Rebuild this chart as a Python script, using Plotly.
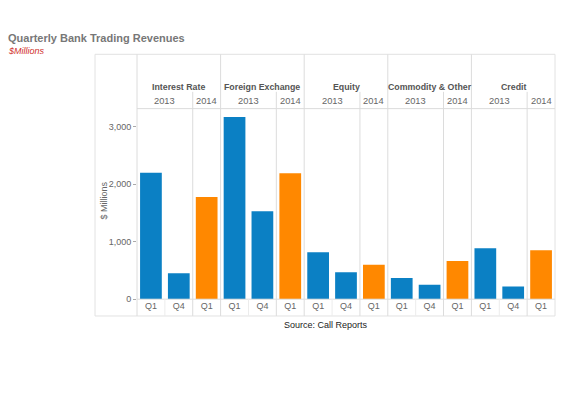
import plotly.graph_objects as go

categories = ["Interest Rate", "Foreign Exchange", "Equity", "Commodity & Other", "Credit"]
years = ["2013", "2013", "2014"]
quarters = ["Q1", "Q4", "Q1"]
values = {
    "Interest Rate": [2200, 450, 1780],
    "Foreign Exchange": [3170, 1530, 2190],
    "Equity": [815, 470, 600],
    "Commodity & Other": [370, 250, 665],
    "Credit": [885, 220, 850],
}
y_ticks = [0, 1000, 2000, 3000]
y_ticktext = ["0", "1,000", "2,000", "3,000"]

BLUE = "#0B80C4"
ORANGE = "#FF8800"
GRID = "#dcdcdc"

W, H = 569, 398
def py(p):  # pixel y -> paper
    return 1 - p / H
def px(p):
    return p / W

xs, ys, cols, ticktext = [], [], [], []
i = 0
for c in categories:
    for k in range(3):
        xs.append(i)
        ys.append(values[c][k])
        cols.append(BLUE if years[k] == "2013" else ORANGE)
        ticktext.append(quarters[k])
        i += 1

fig = go.Figure(go.Bar(x=xs, y=ys, marker=dict(color=cols, line=dict(width=0)), width=0.78))

x0p, x1p = 137, 555
y_top, y_zero = 110, 303
ymax = (y_zero - y_top) / 58.2 * 1000

fig.update_layout(
    width=W, height=H, margin=dict(l=0, r=0, t=0, b=0),
    paper_bgcolor="white", plot_bgcolor="white", showlegend=False,
    font=dict(family="Liberation Sans, Arial", color="#666", size=9),
    xaxis=dict(domain=[px(x0p), px(x1p)], range=[-0.5, 14.5], tickvals=xs, ticktext=ticktext,
               showgrid=False, zeroline=False, showline=False, ticks="",
               tickfont=dict(size=9, color="#666"), fixedrange=True),
    yaxis=dict(domain=[py(y_zero), py(y_top)], range=[0, ymax], tickvals=y_ticks, ticktext=y_ticktext,
               showgrid=False, zeroline=False, showline=False, ticks="outside", ticklen=3,
               tickcolor="#aaa", tickfont=dict(size=9, color="#666")),
)

shapes = []
line = dict(color=GRID, width=1)
shapes.append(dict(type="rect", xref="paper", yref="paper", x0=px(95), x1=px(555), y0=py(320), y1=py(55),
                   line=dict(color="#e2e2e2", width=1)))
shapes.append(dict(type="line", xref="paper", yref="paper", x0=px(x0p), x1=px(x0p), y0=py(320), y1=py(55), line=line))
shapes.append(dict(type="line", xref="paper", yref="paper", x0=px(x0p), x1=px(x1p), y0=py(y_top), y1=py(y_top), line=line))
shapes.append(dict(type="line", xref="paper", yref="paper", x0=px(x0p), x1=px(x1p), y0=py(y_zero), y1=py(y_zero), line=line))
for j in range(len(categories)):
    if j > 0:
        shapes.append(dict(type="line", xref="x", yref="paper", x0=3*j-0.5, x1=3*j-0.5, y0=py(320), y1=py(55), line=line))
    shapes.append(dict(type="line", xref="x", yref="paper", x0=3*j+1.5, x1=3*j+1.5, y0=py(320), y1=py(93), line=line))
    shapes.append(dict(type="line", xref="x", yref="paper", x0=3*j+0.5, x1=3*j+0.5,
                       y0=py(303), y1=py(320), line=dict(color="#ececec", width=1)))
fig.update_layout(shapes=shapes)

ann = []
for j, c in enumerate(categories):
    ann.append(dict(text="<b>%s</b>" % c, x=3*j+1, xref="x", y=py(88), yref="paper", showarrow=False,
                    font=dict(size=8.8, color="#555"), xanchor="center", yanchor="middle"))
    ann.append(dict(text="2013", x=3*j+0.5, xref="x", y=py(102), yref="paper", showarrow=False,
                    font=dict(size=9.3, color="#666"), xanchor="center", yanchor="middle"))
    ann.append(dict(text="2014", x=3*j+2, xref="x", y=py(102), yref="paper", showarrow=False,
                    font=dict(size=9.3, color="#666"), xanchor="center", yanchor="middle"))
ann.append(dict(text="$ Millions", x=px(104), y=py(203), xref="paper", yref="paper", textangle=-90,
                showarrow=False, xanchor="center", yanchor="middle", font=dict(size=9, color="#666")))
ann.append(dict(text="<b>Quarterly Bank Trading Revenues</b>", x=px(6), y=py(38), xref="paper", yref="paper",
                showarrow=False, xanchor="left", yanchor="middle", font=dict(size=11, color="#777")))
ann.append(dict(text="<i>$Millions</i>", x=px(6), y=py(52), xref="paper", yref="paper",
                showarrow=False, xanchor="left", yanchor="middle", font=dict(size=9, color="#D0312D")))
ann.append(dict(text="Source: Call Reports", x=px(326), y=py(329), xref="paper", yref="paper",
                showarrow=False, xanchor="center", yanchor="middle", font=dict(size=9, color="#222")))
fig.update_layout(annotations=ann)

fig.write_html("out.html", config={"displayModeBar": False},
               post_script="document.body.style.margin='0px';document.body.style.padding='0px';")
